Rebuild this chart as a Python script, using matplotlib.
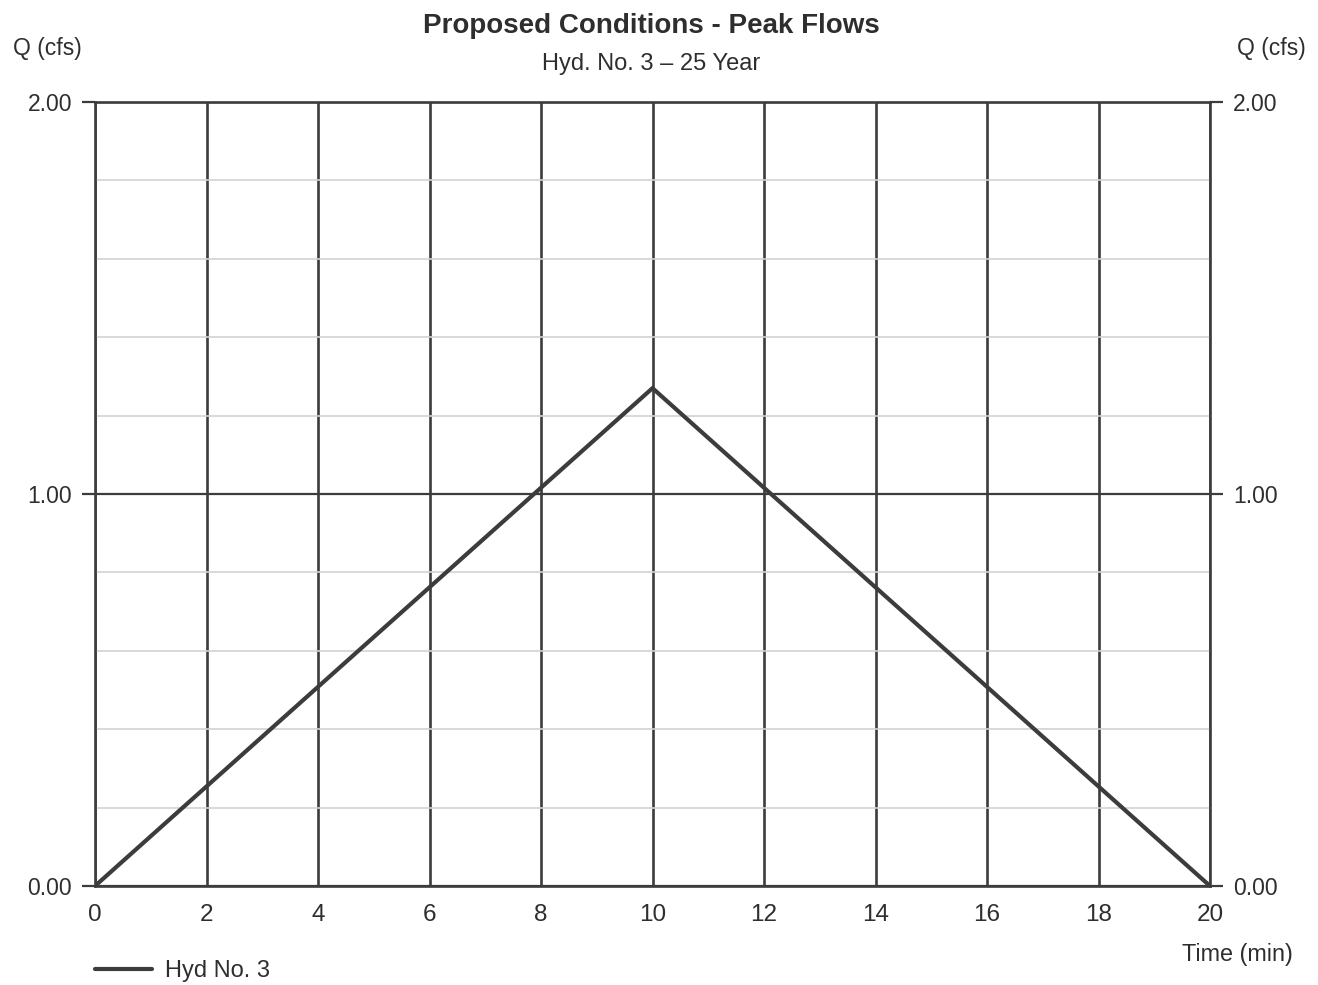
import matplotlib
matplotlib.use("Agg")
import matplotlib.pyplot as plt
from matplotlib.ticker import MultipleLocator, FormatStrFormatter

plt.rcParams['font.family'] = ['Liberation Sans', 'DejaVu Sans']

# Hydrograph data
time_min = [0, 10, 20]
flow_cfs = [0.00, 1.27, 0.00]

x_ticks = [0, 2, 4, 6, 8, 10, 12, 14, 16, 18, 20]
y_ticks = [0.0, 1.0, 2.0]

title = "Proposed Conditions - Peak Flows"
subtitle = "Hyd. No. 3 \u2013 25 Year"
series_label = "Hyd No. 3"

DARK = "#3c3c3c"
TEXT = "#2e2e2e"
MINOR = "#d2d2d2"

fig = plt.figure(figsize=(13.18, 9.85), dpi=100)
ax = fig.add_axes([95 / 1318, 1 - 886 / 985, (1210 - 95) / 1318, (886 - 102) / 985])

ax.set_xlim(0, 20)
ax.set_ylim(0, 2)

# Grid: vertical lines every 2 min, major horizontal every 1.0, minor every 0.2
ax.set_xticks(x_ticks)
ax.set_yticks(y_ticks)
ax.yaxis.set_minor_locator(MultipleLocator(0.2))
ax.yaxis.set_major_formatter(FormatStrFormatter('%.2f'))
ax.grid(True, axis='x', which='major', color=DARK, linewidth=1.9)
ax.grid(True, axis='y', which='major', color=DARK, linewidth=1.6)
ax.grid(True, axis='y', which='minor', color=MINOR, linewidth=1.2)
ax.set_axisbelow(True)

for s in ax.spines.values():
    s.set_color(DARK)
    s.set_linewidth(1.9)

ax.plot(time_min, flow_cfs, color=DARK, linewidth=3.0, solid_capstyle='round',
        solid_joinstyle='miter', label=series_label, zorder=5)

# Tick styling
ax.tick_params(axis='x', which='both', length=0, pad=13, labelsize=17.5, labelcolor=TEXT)
ax.tick_params(axis='y', which='major', direction='out', length=9.5, width=1.6,
               color=DARK, pad=7, labelsize=16.5, labelcolor=TEXT,
               left=True, right=True, labelleft=True, labelright=True)
ax.tick_params(axis='y', which='minor', length=0)

# Axis captions
fig.text(13 / 1318, 1 - 48 / 985, "Q (cfs)", fontsize=16.5, color=TEXT, va='center', ha='left')
fig.text(1306 / 1318, 1 - 48 / 985, "Q (cfs)", fontsize=16.5, color=TEXT, va='center', ha='right')
fig.text(1293 / 1318, 1 - 955 / 985, "Time (min)", fontsize=16.8, color=TEXT, va='center', ha='right')

# Titles
fig.text(651 / 1318, 1 - 26 / 985, title, fontsize=20, fontweight='bold', color=TEXT,
         ha='center', va='center')
fig.text(651 / 1318, 1 - 64 / 985, subtitle, fontsize=17, color=TEXT,
         ha='center', va='center')

# Legend below the plot
fig.legend(loc='center left', bbox_to_anchor=(95 / 1318, 1 - 971 / 985), frameon=False,
           fontsize=17, handlelength=2.4, handletextpad=0.55, borderpad=0,
           borderaxespad=0, labelcolor=TEXT)

fig.savefig("out.png", dpi=100, facecolor='white')
